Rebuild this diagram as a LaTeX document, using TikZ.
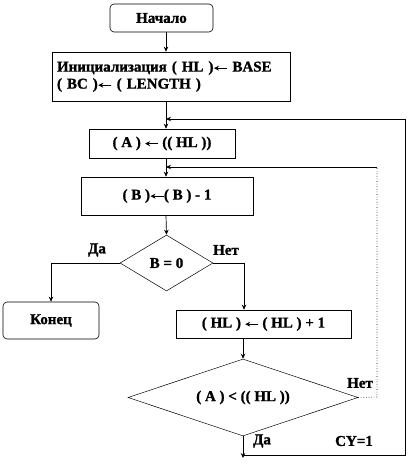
\documentclass[tikz,border=0pt]{standalone}
\usepackage{fontspec}
\setmainfont{Liberation Serif}[BoldFeatures={FakeBold=1.2}]
\usetikzlibrary{shapes.geometric,arrows.meta}
\newcommand{\la}{\raisebox{-0.1ex}{\tikz[baseline=-0.6ex]\draw[line width=0.9pt,-{Stealth[length=5pt,width=5pt]}] (13pt,0) -- (0,0);}}
\begin{document}
\begin{tikzpicture}[x=1pt,y=-1pt,
  every node/.style={font=\fontsize{15}{17}\selectfont\bfseries},
  blk/.style={draw,line width=0.6pt,inner sep=0pt},
  term/.style={blk,rounded corners=4pt},
  dec/.style={draw,line width=0.5pt,diamond,inner sep=0pt},
  ln/.style={line width=0.7pt},
  arr/.style={ln,-{Stealth[length=5pt,width=4.5pt]}},
  lbl/.style={inner sep=0pt}]
\useasboundingbox (0,0) rectangle (408,468);
\node[term,minimum width=103pt,minimum height=28pt] (start) at (161.5,18) {Начало};
\node[blk,minimum width=238pt,minimum height=49pt,align=left,text width=228pt] (init) at (171,76.5)
  {Инициализация ( HL )\la{} BASE\\( BC )\la{} ( LENGTH )};
\node[blk,minimum width=146pt,minimum height=29pt] (boxA) at (162,143.5) {( A ) \la{} (( HL ))};
\node[blk,minimum width=172pt,minimum height=38pt] (boxB) at (167,196) {( B )\la( B ) - 1};
\node[dec,minimum width=93pt,minimum height=56pt,shape aspect=1.66] (d1) at (166.5,263) {B = 0};
\node[term,minimum width=96pt,minimum height=37pt] (fin) at (51,320.5) {Конец};
\node[blk,minimum width=175pt,minimum height=28pt] (boxHL) at (263.5,324) {( HL ) \la{} ( HL ) + 1};
\node[dec,minimum width=230pt,minimum height=77pt,shape aspect=3] (d2) at (243,397.5) {( A ) < (( HL ))};
\node[lbl] (da1) at (97,250) {Да};
\node[lbl] (net1) at (226,250) {Нет};
\node[lbl] (net2) at (360,383) {Нет};
\node[lbl] (da2) at (262,441) {Да};
\node[lbl] (cy) at (354,441) {CY=1};
\coordinate (m1) at (166,119);
\coordinate (m2) at (166,167);
\coordinate (dn) at (243,458);
\coordinate (c1) at (243,455);
\coordinate (c2) at (405,455);
\coordinate (c3) at (405,119);
\coordinate (n1) at (377,397);
\coordinate (n2) at (377,167);
\draw[arr] (start.south -| 166,0) -- (init.north -| 166,0);
\draw[arr] (init.south -| 166,0) -- (boxA.north -| 166,0);
\draw[arr] (boxA.south -| 166,0) -- (boxB.north -| 166,0);
\draw[arr] (boxB.south -| 166,0) -- (d1.north);
\draw[arr] (d1.west) -| (fin.north);
\draw[arr] (d1.east) -| (boxHL.north -| 244,0);
\draw[arr] (boxHL.south -| 243,0) -- (d2.north);
\draw[arr] (d2.south) -- (dn);
\draw[arr] (c1) -- (c2) -- (c3) -- (m1);
\draw[line width=0.6pt,dotted] (d2.east) -- (n1) -- (n2);
\draw[arr] (n2) -- (m2);
\end{tikzpicture}
\end{document}
